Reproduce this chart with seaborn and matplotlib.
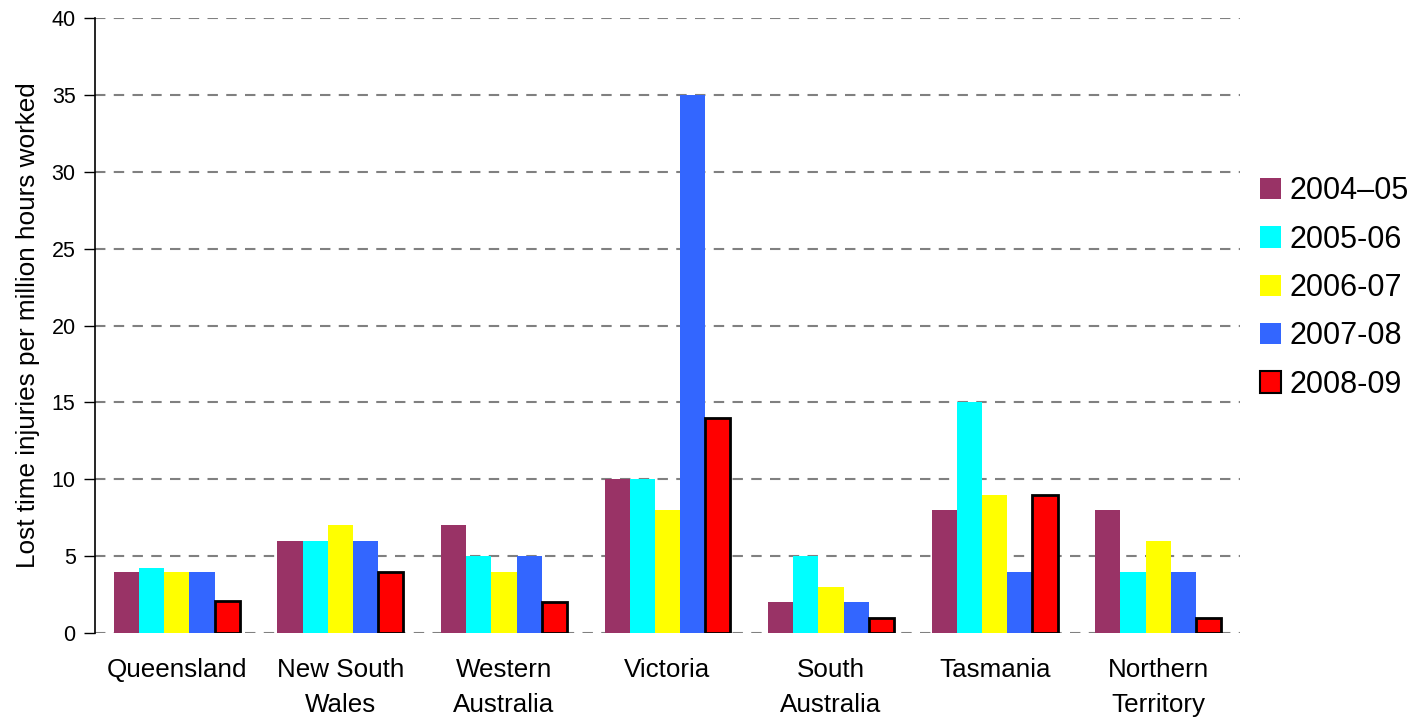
import matplotlib
matplotlib.use("Agg")
import matplotlib.pyplot as plt
from matplotlib.patches import Patch
import seaborn as sns
import pandas as pd

states = ["Queensland", "New South\nWales", "Western\nAustralia", "Victoria",
          "South\nAustralia", "Tasmania", "Northern\nTerritory"]
years = ["2004\u201305", "2005-06", "2006-07", "2007-08", "2008-09"]

rate_2004_05 = [4, 6, 7, 10, 2, 8, 8]
rate_2005_06 = [4.2, 6, 5, 10, 5, 15, 4]
rate_2006_07 = [4, 7, 4, 8, 3, 9, 6]
rate_2007_08 = [4, 6, 5, 35, 2, 4, 4]
rate_2008_09 = [2.1, 4, 2, 14, 1, 9, 1]

colors = ["#993366", "#00FFFF", "#FFFF00", "#3366FF", "#FF0000"]

series = [rate_2004_05, rate_2005_06, rate_2006_07, rate_2007_08, rate_2008_09]
df = pd.DataFrame({
    "state": [s for _ in years for s in states],
    "year": [y for y in years for _ in states],
    "rate": [v for vals in series for v in vals],
})

sns.set_theme(style="white")
plt.rcParams["font.family"] = ["Liberation Sans", "DejaVu Sans"]
plt.rcParams["text.color"] = "black"
plt.rcParams["axes.labelcolor"] = "black"
plt.rcParams["xtick.color"] = "black"
plt.rcParams["ytick.color"] = "black"

fig = plt.figure(figsize=(14.25, 7.21), dpi=100)
ax = fig.add_axes([95 / 1425, 1 - 633 / 721, (1240 - 95) / 1425, (633 - 18) / 721])

sns.barplot(data=df, x="state", y="rate", hue="year", order=states, hue_order=years,
            palette=colors, width=0.77, saturation=1, gap=0, ax=ax, legend=False,
            errorbar=None, linewidth=0, zorder=3)

# outline the 2008-09 bars
for bar in ax.containers[-1]:
    bar.set_edgecolor("black")
    bar.set_linewidth(2)

ax.set_ylim(0, 40)
ax.set_yticks(range(0, 41, 5))
ax.set_xlim(-0.5, len(states) - 0.5)
ax.yaxis.grid(True, linestyle=(0, (5, 4)), color="#808080", linewidth=1.5, zorder=0)
ax.set_axisbelow(True)
for side in ["top", "right", "bottom"]:
    ax.spines[side].set_visible(False)
ax.spines["left"].set_color("black")
ax.spines["left"].set_linewidth(1.2)
ax.tick_params(axis="y", which="major", left=True, length=8, width=1, color="black",
               labelsize=15.5, pad=6)
ax.tick_params(axis="x", bottom=False, labelsize=18.7, pad=12)
for lbl in ax.get_xticklabels():
    lbl.set_linespacing(1.6)
ax.set_xlabel("")
ax.set_ylabel("Lost time injuries per million hours worked", fontsize=18.8, labelpad=8)

handles = [Patch(facecolor=c, edgecolor=("black" if i == 4 else c),
                 linewidth=(1.5 if i == 4 else 0)) for i, c in enumerate(colors)]
fig.legend(handles, years, loc="center left", bbox_to_anchor=(1260 / 1425, 1 - 288 / 721),
           frameon=False, fontsize=22, handlelength=0.7, handleheight=0.7,
           handletextpad=0.25, labelspacing=0.6, borderaxespad=0, borderpad=0)

fig.savefig("out.png", dpi=100)
